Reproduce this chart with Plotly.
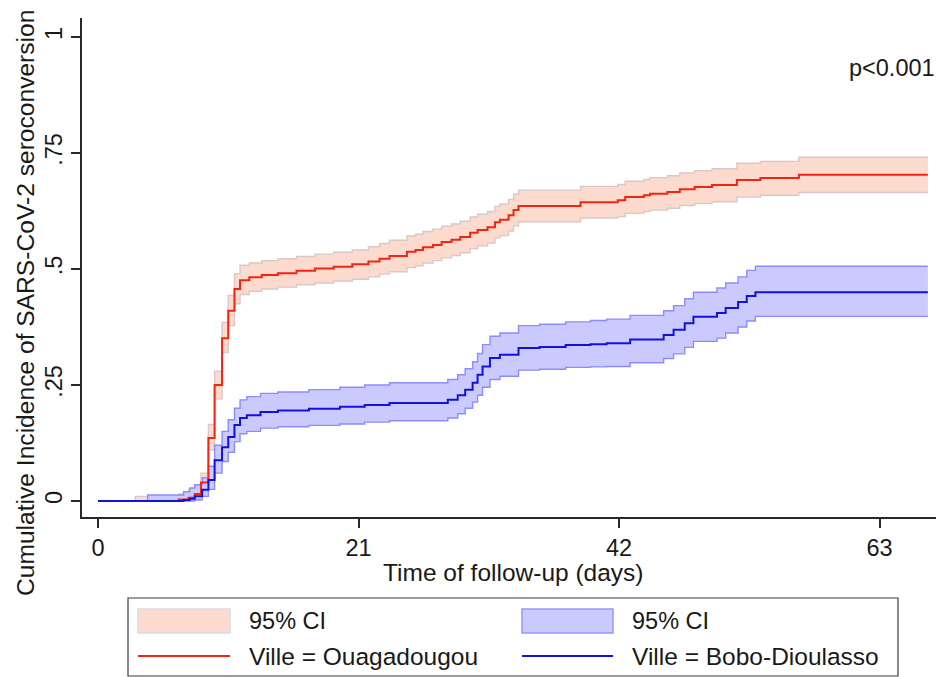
import plotly.graph_objects as go

# ---------------- data ----------------
x_ticks = [0, 21, 42, 63]
y_ticks = [0, 0.25, 0.5, 0.75, 1]
y_tick_labels = ["0", ".25", ".5", ".75", "1"]

# Ville = Ouagadougou : time (days), cumulative incidence, 95% CI lower / upper
ouaga_t = [0, 3.0, 6.5, 7.3, 7.8, 8.3, 8.9, 9.4, 10.0, 10.5, 11.0, 11.45, 12.2, 13.2, 14.5,
           16.0, 17.5, 19.0, 20.5, 21.8, 22.7, 23.5, 24.9, 25.6, 26.2, 27.0, 27.7, 28.5,
           29.2, 30.0, 30.6, 31.4, 32.0, 32.4, 33.1, 33.5, 33.9, 38.9, 41.9, 42.5, 44.0,
           44.5, 45.9, 46.9, 48.1, 49.5, 51.5, 53.4, 56.5, 66.9]
ouaga_s = [0, 0, 0.003, 0.007, 0.015, 0.04, 0.136, 0.25, 0.351, 0.41, 0.457, 0.476, 0.482,
           0.487, 0.491, 0.496, 0.501, 0.505, 0.51, 0.516, 0.522, 0.528, 0.537, 0.541, 0.547,
           0.552, 0.558, 0.563, 0.569, 0.578, 0.584, 0.59, 0.601, 0.606, 0.616, 0.627, 0.636,
           0.644, 0.648, 0.655, 0.659, 0.662, 0.666, 0.672, 0.677, 0.681, 0.692, 0.696,
           0.703, 0.703]
ouaga_lo = [0, 0, 0.0, 0.001, 0.005, 0.025, 0.11, 0.22, 0.32, 0.378, 0.425, 0.445, 0.452,
            0.457, 0.461, 0.466, 0.470, 0.474, 0.478, 0.483, 0.489, 0.494, 0.503, 0.507,
            0.513, 0.518, 0.524, 0.529, 0.535, 0.544, 0.55, 0.556, 0.567, 0.572, 0.582,
            0.593, 0.602, 0.61, 0.613, 0.62, 0.624, 0.627, 0.631, 0.637, 0.641, 0.645,
            0.655, 0.659, 0.665, 0.665]
ouaga_hi = [0, 0.01, 0.015, 0.025, 0.035, 0.06, 0.165, 0.28, 0.385, 0.443, 0.49, 0.508,
            0.513, 0.518, 0.522, 0.527, 0.532, 0.536, 0.541, 0.548, 0.555, 0.562, 0.571,
            0.575, 0.581, 0.586, 0.592, 0.597, 0.603, 0.612, 0.618, 0.624, 0.635, 0.64,
            0.65, 0.661, 0.67, 0.678, 0.682, 0.689, 0.693, 0.697, 0.701, 0.707, 0.712,
            0.716, 0.728, 0.732, 0.741, 0.741]

# Ville = Bobo-Dioulasso
bobo_t = [0, 4.0, 6.9, 7.4, 7.8, 8.4, 8.9, 9.4, 10.0, 10.5, 11.0, 11.45, 12.0, 13.1, 14.5,
          17.0, 19.5, 21.5, 23.5, 28.2, 29.0, 29.6, 30.2, 30.6, 31.0, 31.6, 32.4, 33.9,
          35.6, 37.7, 39.7, 41.0, 42.9, 45.6, 46.4, 47.3, 48.0, 49.9, 50.6, 51.6, 52.3,
          53.0, 66.9]
bobo_s = [0, 0, 0.002, 0.005, 0.01, 0.024, 0.045, 0.088, 0.116, 0.138, 0.164, 0.179, 0.185,
          0.192, 0.195, 0.199, 0.203, 0.207, 0.211, 0.218, 0.228, 0.24, 0.255, 0.272, 0.29,
          0.308, 0.315, 0.33, 0.332, 0.336, 0.338, 0.34, 0.348, 0.358, 0.369, 0.383, 0.397,
          0.405, 0.416, 0.429, 0.442, 0.45, 0.45]
bobo_lo = [0, 0, 0, 0, 0.002, 0.01, 0.025, 0.06, 0.085, 0.105, 0.128, 0.145, 0.15, 0.157,
           0.16, 0.163, 0.166, 0.17, 0.173, 0.179, 0.188, 0.2, 0.213, 0.228, 0.245, 0.262,
           0.269, 0.282, 0.284, 0.288, 0.289, 0.29, 0.298, 0.307, 0.317, 0.331, 0.344,
           0.351, 0.362, 0.375, 0.388, 0.398, 0.398]
bobo_hi = [0, 0.013, 0.02, 0.028, 0.035, 0.05, 0.075, 0.12, 0.15, 0.175, 0.2, 0.218, 0.225,
           0.232, 0.235, 0.24, 0.245, 0.25, 0.255, 0.262, 0.272, 0.285, 0.3, 0.318, 0.337,
           0.355, 0.362, 0.378, 0.381, 0.386, 0.389, 0.392, 0.4, 0.41, 0.421, 0.436, 0.45,
           0.459, 0.47, 0.483, 0.497, 0.506, 0.506]

legend_labels = ["95% CI", "95% CI", "Ville = Ouagadougou", "Ville = Bobo-Dioulasso"]

# ---------------- styles ----------------
RED = "rgb(240,38,18)"
BLUE = "rgb(18,18,222)"
RED_FILL = "rgb(252,218,206)"
RED_EDGE = "rgb(218,200,200)"
BLUE_FILL = "rgb(202,202,255)"
BLUE_EDGE = "rgb(140,140,250)"
FONT = "Liberation Sans, Arial, sans-serif"
TXT = "rgb(25,25,25)"

OFF = 8  # page body margin of the html page
W, H = 944 - OFF, 677 - OFF
# plot area in window pixels: x 82..944, y 18..517
L, R, T, B = 82 - OFF, 0, 18 - OFF, 677 - 517
PW, PH = W - L - R, H - T - B


def px(xp):
    return (xp - OFF - L) / PW


def py(yp):
    return (H - B - (yp - OFF)) / PH


fig = go.Figure()


def band(t, lo, hi, fill, edge):
    fig.add_trace(go.Scatter(x=t, y=lo, mode="lines", line=dict(color=edge, width=1.4, shape="hv"),
                             showlegend=False, hoverinfo="skip"))
    fig.add_trace(go.Scatter(x=t, y=hi, mode="lines", line=dict(color=edge, width=1.4, shape="hv"),
                             fill="tonexty", fillcolor=fill, showlegend=False, hoverinfo="skip"))


band(ouaga_t, ouaga_lo, ouaga_hi, RED_FILL, RED_EDGE)
band(bobo_t, bobo_lo, bobo_hi, BLUE_FILL, BLUE_EDGE)
fig.add_trace(go.Scatter(x=ouaga_t, y=ouaga_s, mode="lines", name=legend_labels[2],
                         line=dict(color=RED, width=2, shape="hv"), showlegend=False))
fig.add_trace(go.Scatter(x=bobo_t, y=bobo_s, mode="lines", name=legend_labels[3],
                         line=dict(color=BLUE, width=2, shape="hv"), showlegend=False))

axis_common = dict(showgrid=False, zeroline=False, showline=True, linecolor="rgb(40,40,40)",
                   linewidth=1.5, ticks="outside", ticklen=9, tickwidth=1.5,
                   tickcolor="rgb(40,40,40)", tickfont=dict(family=FONT, size=23.5, color=TXT))

fig.update_xaxes(range=[-1.29, 68.2], tickvals=x_ticks, ticktext=[str(v) for v in x_ticks],
                 **axis_common)
fig.update_yaxes(range=[-0.0345, 1.041], tickvals=y_ticks, ticktext=y_tick_labels,
                 tickangle=-90, **axis_common)

annotations = [
    dict(text="Cumulative Incidence of SARS-CoV-2 seroconversion", x=px(25), y=py(303),
         textangle=-90, font=dict(size=24.6)),
    dict(text="Time of follow-up (days)", x=px(513), y=py(572), font=dict(size=24.5)),
    dict(text="p<0.001", x=px(937), y=py(68), xanchor="right", font=dict(size=23.5)),
    dict(text=legend_labels[0], x=px(247), y=py(621), xanchor="left", font=dict(size=23.5)),
    dict(text=legend_labels[1], x=px(630), y=py(621), xanchor="left", font=dict(size=23.5)),
    dict(text=legend_labels[2], x=px(247), y=py(656), xanchor="left", font=dict(size=24.5)),
    dict(text=legend_labels[3], x=px(630), y=py(656), xanchor="left", font=dict(size=24.5)),
]
for a in annotations:
    a.update(xref="paper", yref="paper", showarrow=False)
    a.setdefault("xanchor", "center")
    a["yanchor"] = "middle"
    a["font"].update(family=FONT, color=TXT)

shapes = [
    # legend frame
    dict(type="rect", x0=px(128), x1=px(898), y0=py(676), y1=py(598),
         line=dict(color="rgb(60,60,60)", width=1.2), fillcolor="rgba(0,0,0,0)"),
    # swatches
    dict(type="rect", x0=px(138), x1=px(230), y0=py(633), y1=py(609),
         line=dict(color="rgb(215,220,228)", width=1.5), fillcolor=RED_FILL),
    dict(type="rect", x0=px(522), x1=px(613), y0=py(633), y1=py(609),
         line=dict(color="rgb(150,150,250)", width=1.5), fillcolor=BLUE_FILL),
    dict(type="line", x0=px(138), x1=px(230), y0=py(656), y1=py(656),
         line=dict(color=RED, width=2)),
    dict(type="line", x0=px(522), x1=px(613), y0=py(656), y1=py(656),
         line=dict(color=BLUE, width=2)),
]
for s in shapes:
    s.update(xref="paper", yref="paper")

fig.update_layout(width=W, height=H, margin=dict(l=L, r=R, t=T, b=B, pad=0),
                  paper_bgcolor="white", plot_bgcolor="white", showlegend=False,
                  annotations=annotations, shapes=shapes,
                  font=dict(family=FONT, color=TXT))

fig.write_html("out.html")
